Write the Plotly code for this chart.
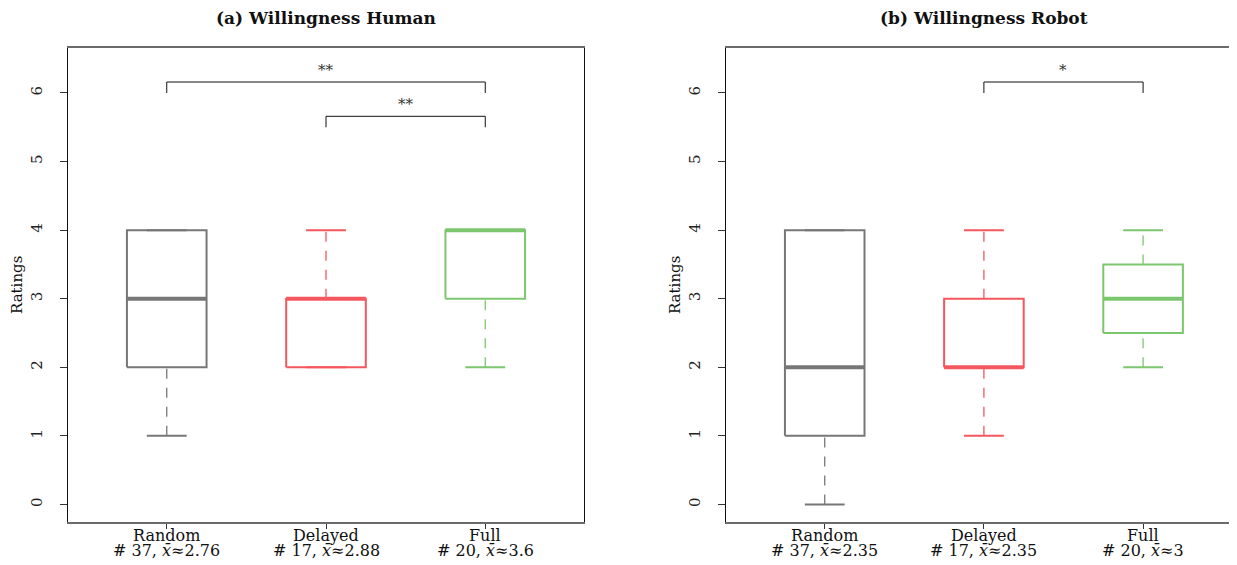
import plotly.graph_objects as go

# ---------------- data ----------------
categories = ["Random", "Delayed", "Full"]
counts = [37, 17, 20]
colors = ["#777777", "#f5575e", "#7cc66e"]

human_min = [1, 2, 2]
human_q1 = [2, 2, 3]
human_med = [3, 3, 4]
human_q3 = [4, 3, 4]
human_max = [4, 4, 4]
human_mean = ["2.76", "2.88", "3.6"]

robot_min = [0, 1, 2]
robot_q1 = [1, 2, 2.5]
robot_med = [2, 2, 3]
robot_q3 = [4, 3, 3.5]
robot_max = [4, 4, 4]
robot_mean = ["2.35", "2.35", "3"]

# significance comparisons: (from category, to category, label)
human_sig = [("Random", "Full", "**"), ("Delayed", "Full", "**")]
robot_sig = [("Delayed", "Full", "*")]

y_ticks = [0, 1, 2, 3, 4, 5, 6]

panel_titles = ["(a) Willingness Human", "(b) Willingness Robot"]
y_title = "Ratings"

# ---------------- style ----------------
FONT = "DejaVu Serif"
TXT = 16
BOX_HALF = 0.25
CAP_HALF = 0.125
BRACKET_TOPS = [6.16, 5.66]
BRACKET_DROP = 0.16

fig = go.Figure()


def add_boxes(xa, ya, mins, q1s, meds, q3s, maxs):
    for i, cat in enumerate(categories):
        p = i + 1
        c = colors[i]
        for lo, hi in ((mins[i], q1s[i]), (q3s[i], maxs[i])):
            fig.add_trace(go.Scatter(x=[p, p], y=[lo, hi], mode="lines",
                                     line=dict(color=c, width=1.3, dash="10px,9px"),
                                     xaxis=xa, yaxis=ya, hoverinfo="skip"))
        for v in (mins[i], maxs[i]):
            fig.add_trace(go.Scatter(x=[p - CAP_HALF, p + CAP_HALF], y=[v, v], mode="lines",
                                     line=dict(color=c, width=2),
                                     xaxis=xa, yaxis=ya, hoverinfo="skip"))
        fig.add_trace(go.Scatter(
            x=[p - BOX_HALF, p + BOX_HALF, p + BOX_HALF, p - BOX_HALF, p - BOX_HALF],
            y=[q1s[i], q1s[i], q3s[i], q3s[i], q1s[i]], mode="lines",
            line=dict(color=c, width=2), xaxis=xa, yaxis=ya, hoverinfo="skip"))
        fig.add_trace(go.Scatter(x=[p - BOX_HALF, p + BOX_HALF], y=[meds[i], meds[i]],
                                 mode="lines", line=dict(color=c, width=4),
                                 xaxis=xa, yaxis=ya, hoverinfo="skip"))


def add_sig(xa, ya, sigs):
    for k, (a, b, lab) in enumerate(sigs):
        pa = categories.index(a) + 1
        pb = categories.index(b) + 1
        top = BRACKET_TOPS[k]
        fig.add_trace(go.Scatter(x=[pa, pa, pb, pb],
                                 y=[top - BRACKET_DROP, top, top, top - BRACKET_DROP],
                                 mode="lines", line=dict(color="#111111", width=1),
                                 xaxis=xa, yaxis=ya, hoverinfo="skip"))
        fig.add_annotation(x=(pa + pb) / 2, y=top, xref=xa, yref=ya, text=lab,
                           showarrow=False, yanchor="bottom", yshift=1,
                           font=dict(family=FONT, size=TXT - 1, color="#333333"))


def add_xlabels(xa, ya, means):
    for i, (cat, n, m) in enumerate(zip(categories, counts, means)):
        fig.add_annotation(x=i + 1, y=0, xref=xa, yref=f"{ya} domain", text=cat,
                           showarrow=False, yanchor="middle", yshift=-13,
                           font=dict(family=FONT, size=TXT, color="#111111"))
        fig.add_annotation(x=i + 1, y=0, xref=xa, yref=f"{ya} domain",
                           text=f"# {n}, <i>x̄</i>≈{m}", showarrow=False,
                           yanchor="middle", yshift=-28,
                           font=dict(family=FONT, size=TXT, color="#111111"))


add_boxes("x", "y", human_min, human_q1, human_med, human_q3, human_max)
add_boxes("x2", "y2", robot_min, robot_q1, robot_med, robot_q3, robot_max)
add_sig("x", "y", human_sig)
add_sig("x2", "y2", robot_sig)
add_xlabels("x", "y", human_mean)
add_xlabels("x2", "y2", robot_mean)

xcommon = dict(tickvals=[1, 2, 3], showticklabels=False, ticks="outside", ticklen=5,
               tickcolor="#333333", showline=True, linecolor="#6b6b6b", linewidth=2,
               mirror=True, showgrid=False, zeroline=False)
ycommon = dict(range=[-0.256, 6.656], tickvals=y_ticks, ticks="outside", ticklen=7,
               tickcolor="#333333", tickangle=-90, showline=True, linecolor="#111111",
               linewidth=1.3, showgrid=False, zeroline=False, ticklabelstandoff=12,
               tickfont=dict(family=FONT, size=TXT - 1, color="#222222"))

fig.update_layout(
    width=1229, height=557,
    margin=dict(l=60, r=0, t=40, b=43),
    plot_bgcolor="white", paper_bgcolor="white",
    showlegend=False,
    xaxis=dict(domain=[0, 0.4414], range=[0.38, 3.62], anchor="y", **xcommon),
    yaxis=dict(domain=[0, 1], anchor="x", mirror=True, **ycommon),
    xaxis2=dict(domain=[0.5629, 1.0], range=[0.38, 3.59], anchor="y2", **xcommon),
    yaxis2=dict(domain=[0, 1], anchor="x2", mirror=False, **ycommon),
)

for xa, ya, t in (("x", "y", panel_titles[0]), ("x2", "y2", panel_titles[1])):
    fig.add_annotation(x=2, y=1, xref=xa, yref=f"{ya} domain", text=f"<b>{t}</b>",
                       showarrow=False, yanchor="middle", yshift=30,
                       font=dict(family=FONT, size=17, color="#111111"))
    fig.add_annotation(x=0, y=0.5, xref=f"{xa} domain", yref=f"{ya} domain", text=y_title,
                       showarrow=False, textangle=-90, xshift=-51, xanchor="center",
                       font=dict(family=FONT, size=TXT - 1, color="#111111"))

fig.write_html("out.html")
